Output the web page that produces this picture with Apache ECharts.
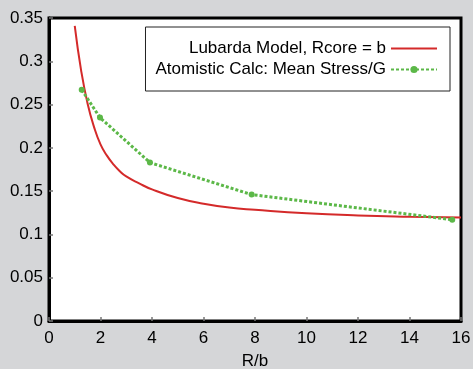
<!DOCTYPE html>
<html>
<head>
<meta charset="utf-8">
<script src="https://cdn.jsdelivr.net/npm/echarts@6/dist/echarts.min.js"></script>
<style>
  html, body { margin: 0; padding: 0; background: #d5d6d8; }
  #chart { width: 473px; height: 369px; }
</style>
</head>
<body>
<div id="chart"></div>
<script>
// Lubarda model curve (R/b, stress/G)
const modelX = [1.0, 1.25, 1.5, 1.75, 2, 2.25, 2.5, 2.75, 3, 3.5, 4, 5, 6, 7, 8, 10, 12, 14, 16];
const modelY = [0.341, 0.289, 0.251, 0.224, 0.204, 0.191, 0.181, 0.173, 0.167, 0.159, 0.152, 0.142, 0.1355, 0.131, 0.1285, 0.1245, 0.122, 0.1205, 0.1195];

// atomistic points
const atomX = [1.27, 1.98, 3.92, 7.87, 15.66];
const atomY = [0.267, 0.235, 0.183, 0.146, 0.117];

const xTicks = [0, 2, 4, 6, 8, 10, 12, 14, 16];
const yTicks = [0, 0.05, 0.1, 0.15, 0.2, 0.25, 0.3, 0.35];

const seriesNames = ["Lubarda Model, Rcore = b", "Atomistic Calc: Mean Stress/G"];

const FONT = "Liberation Sans";
const chart = echarts.init(document.getElementById("chart"));

chart.setOption({
  backgroundColor: "#d5d6d8",
  animation: false,
  textStyle: { fontFamily: FONT },
  grid: {
    left: 49, right: 12, top: 18, bottom: 48,
    outerBoundsMode: "none",
    show: true, backgroundColor: "#fff",
    borderColor: "#000", borderWidth: 3,
  },
  legend: {
    orient: "vertical",
    align: "right",
    right: 23, top: 27,
    padding: [13, 12, 13, 10],
    itemGap: 4,
    itemWidth: 46, itemHeight: 9,
    backgroundColor: "#fff",
    borderColor: "#222", borderWidth: 1, borderRadius: 0,
    textStyle: { fontSize: 17, color: "#000", fontFamily: FONT },
    data: [
      { name: seriesNames[0], itemStyle: { opacity: 0 } },
      { name: seriesNames[1] },
    ],
  },
  xAxis: {
    type: "value",
    min: 0, max: 16, interval: 2,
    name: "R/b", nameLocation: "middle", nameGap: 32,
    nameTextStyle: { fontSize: 17, color: "#000", fontFamily: FONT },
    axisLine: { show: true, lineStyle: { color: "#000", width: 3 } },
    axisTick: { show: true, inside: true, length: 4, lineStyle: { color: "#777", width: 1.5 } },
    axisLabel: {
      fontSize: 17, color: "#000", margin: 9,
      formatter: (v) => xTicks.includes(v) ? String(v) : "",
    },
    splitLine: { show: false },
  },
  yAxis: {
    type: "value",
    min: 0, max: 0.35, interval: 0.05,
    axisLine: { show: true, lineStyle: { color: "#000", width: 3 } },
    axisTick: { show: true, inside: true, length: 4, lineStyle: { color: "#777", width: 1.5 } },
    axisLabel: {
      fontSize: 17, color: "#000", margin: 6,
      formatter: (v) => {
        const t = yTicks.find((k) => Math.abs(k - v) < 1e-9);
        return t === undefined ? "" : String(+t.toFixed(2));
      },
    },
    splitLine: { show: false },
  },
  series: [
    {
      name: seriesNames[0],
      type: "line",
      smooth: true,
      symbol: "none",
      data: modelX.map((x, i) => [x, modelY[i]]),
      lineStyle: { color: "#d42a2a", width: 2 },
      itemStyle: { color: "#d42a2a" },
      z: 2,
    },
    {
      name: seriesNames[1],
      type: "line",
      symbol: "circle",
      symbolSize: 6,
      data: atomX.map((x, i) => [x, atomY[i]]),
      lineStyle: { color: "#5cb848", width: 3, type: [3, 2] },
      itemStyle: { color: "#5cb848" },
      z: 3,
    },
  ],
});
</script>
</body>
</html>
